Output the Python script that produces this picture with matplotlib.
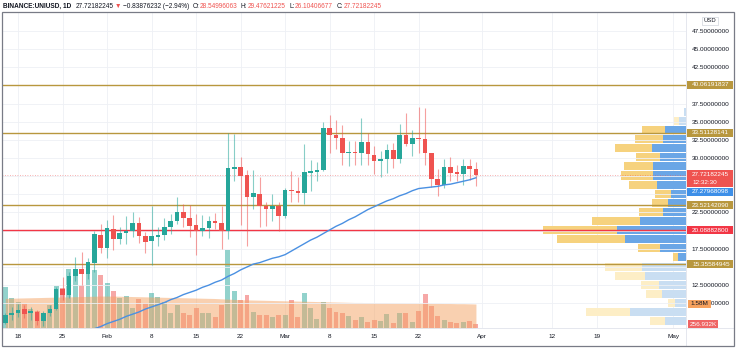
import matplotlib
matplotlib.use('Agg')
import matplotlib.pyplot as plt
import matplotlib.dates as mdates
from matplotlib.patches import Rectangle
import numpy as np
import pandas as pd

W, H = 736, 348

# ---- data ----
dates = pd.date_range('2021-01-16', '2021-03-31', freq='D')
opens = [7.3, 8.36, 8.6, 9.18, 8.6, 8.86, 7.55, 8.6, 9.27, 12.0,
         11.2, 13.8, 14.7, 14.0, 15.5, 19.45, 17.6, 20.2, 18.86, 19.63,
         20.0, 21.05, 19.2, 18.53, 19.18, 19.45, 20.55, 21.37, 22.5, 21.7,
         20.73, 20.0, 20.3, 21.37, 21.05, 20.0, 28.55, 28.7, 27.6, 24.66,
         25.1, 23.33, 22.97, 23.4, 22.05, 25.6, 25.5, 25.2, 28.0, 28.1,
         28.36, 34.07, 33.1, 32.7, 30.64, 30.86, 30.7, 32.2, 30.4, 29.6,
         29.8, 31.05, 29.82, 33.15, 31.87, 32.8, 32.55, 30.73, 27.08, 26.3,
         28.77, 28.08, 27.77, 28.86, 28.54996063]
highs = [8.6, 9.5, 9.9, 9.8, 9.5, 9.1, 9.0, 9.7, 12.3, 13.6,
         14.3, 16.4, 17.0, 16.3, 20.0, 20.9, 21.4, 22.1, 20.5, 22.05,
         22.5, 21.9, 19.8, 23.4, 20.5, 21.8, 22.3, 24.6, 23.7, 23.5,
         22.3, 22.2, 22.0, 22.4, 23.4, 33.4, 33.3, 30.2, 28.3, 28.3,
         27.4, 24.0, 25.0, 24.0, 25.9, 28.2, 27.4, 31.96, 29.7, 29.4,
         35.0, 35.9, 35.3, 34.5, 32.4, 32.4, 35.5, 33.5, 31.6, 31.0,
         31.9, 32.0, 34.7, 36.2, 33.8, 37.0, 36.9, 30.73, 28.45, 29.8,
         30.2, 29.1, 29.8, 29.8, 29.47621225]
lows = [7.1, 7.7, 8.1, 8.0, 7.7, 7.0, 6.9, 8.2, 9.1, 10.4,
        10.7, 13.1, 12.5, 13.4, 14.3, 16.9, 16.2, 17.3, 18.1, 18.2,
        19.1, 18.3, 16.9, 15.3, 17.9, 18.7, 19.5, 20.9, 20.5, 19.1,
        16.6, 19.2, 19.0, 20.2, 17.5, 18.9, 26.8, 20.8, 17.85, 22.97,
        20.45, 20.7, 21.3, 20.0, 21.8, 23.9, 23.9, 23.66, 25.5, 26.8,
        28.2, 30.7, 31.3, 29.0, 28.95, 29.0, 29.1, 29.1, 27.8, 27.4,
        28.0, 28.6, 29.36, 31.6, 30.27, 30.7, 29.1, 26.0, 24.8, 25.9,
        26.9, 26.8, 26.3, 27.0, 26.10406677]
closes = [8.36, 8.66, 9.13, 8.5, 8.95, 7.6, 8.65, 9.27, 12.0, 11.2,
          13.8, 14.7, 14.0, 15.66, 19.55, 17.6, 20.37, 18.86, 19.63, 20.0,
          21.05, 19.2, 18.5, 19.22, 19.45, 20.55, 21.37, 22.6, 21.7, 20.7,
          20.0, 20.3, 21.37, 21.0, 20.0, 28.6, 28.75, 27.5, 24.65, 25.16,
          23.4, 22.97, 23.4, 22.05, 25.6, 25.4, 25.2, 28.1, 28.2, 28.4,
          34.07, 33.1, 32.7, 30.64, 30.8, 30.73, 32.2, 30.6, 29.6, 29.8,
          31.05, 29.82, 33.15, 31.87, 32.8, 32.55, 30.73, 27.08, 26.3, 28.77,
          28.0, 27.77, 28.86, 28.55, 27.72182245]
# volume in millions
volumes = [2.7, 1.95, 1.7, 1.6, 1.25, 1.15, 0.95, 1.5, 2.75, 2.6,
           3.9, 3.9, 2.8, 4.3, 3.8, 3.5, 2.96, 2.44, 2.0, 2.1,
           1.3, 1.9, 1.64, 2.32, 2.06, 1.73, 0.98, 1.51, 0.98, 0.88,
           1.3, 0.98, 0.98, 0.75, 1.5, 5.15, 2.43, 1.82, 2.17, 1.07,
           0.86, 0.86, 0.75, 0.86, 0.86, 1.84, 0.75, 2.28, 1.34, 0.57,
           1.71, 1.29, 1.07, 0.96, 0.79, 0.53, 0.75, 0.42, 0.53, 0.48,
           0.9, 0.35, 1.0, 0.96, 0.42, 1.14, 2.24, 1.45, 0.79, 0.53,
           0.42, 0.31, 0.42, 0.46, 0.256932]
vol_ma = [1.95, 1.96, 1.97, 1.98, 1.99, 2.0, 2.01, 2.02, 2.03, 2.04,
          2.05, 2.06, 2.07, 2.08, 2.09, 2.1, 2.1, 2.1, 2.09, 2.08,
          2.07, 2.06, 2.05, 2.04, 2.03, 2.02, 2.01, 2.0, 1.99, 1.98,
          1.97, 1.96, 1.95, 1.94, 1.92, 1.9, 1.88, 1.86, 1.85, 1.84,
          1.83, 1.82, 1.81, 1.8, 1.79, 1.78, 1.77, 1.76, 1.75, 1.74,
          1.73, 1.72, 1.71, 1.7, 1.69, 1.68, 1.68, 1.67, 1.67, 1.66,
          1.66, 1.65, 1.65, 1.64, 1.64, 1.63, 1.63, 1.62, 1.62, 1.61,
          1.61, 1.60, 1.60, 1.59, 1.58]
# moving average, visible from the 14th candle on
ma = [np.nan] * 14 + [
    6.5, 6.8, 7.2, 7.5, 7.8, 8.2, 8.5, 8.8, 9.2, 9.5,
    9.8, 10.1, 10.5, 10.8, 11.2, 11.5, 11.8, 12.2, 12.5, 12.9,
    13.2, 13.7, 14.1, 14.6, 15.0, 15.4, 15.6, 15.9, 16.2, 16.4,
    16.7, 17.2, 17.7, 18.2, 18.7, 19.1, 19.6, 20.1, 20.6, 21.0,
    21.5, 21.9, 22.4, 22.9, 23.3, 23.7, 24.1, 24.4, 24.8, 25.1,
    25.5, 25.8, 25.9, 26.0, 26.1, 26.3, 26.4, 26.6, 26.8, 27.0,
    27.27968098]

# visible range volume profile, 24 rows, bottom to top (relative units)
prof_lo, prof_hi = 6.9, 37.0
prof_up = [21, 56, 11, 24, 27, 41, 44, 8, 26, 61, 69, 46, 23, 18, 15, 29, 33, 33, 26, 34, 23, 21, 7, 2]
prof_down = [15, 44, 7, 16, 18, 30, 37, 5, 22, 68, 74, 48, 24, 16, 16, 28, 32, 29, 24, 37, 28, 23, 5, 0]
value_area = (7, 21)

gold_levels = [40.06191837, 33.51128141, 23.52142090, 15.35584945]
red_level = 20.08882800

tick_dates = ['2021-01-18', '2021-01-25', '2021-02-01', '2021-02-08', '2021-02-15', '2021-02-22',
              '2021-03-01', '2021-03-08', '2021-03-15', '2021-03-22', '2021-04-01', '2021-04-12',
              '2021-04-19', '2021-05-01']
tick_labels = ['18', '25', 'Feb', '8', '15', '22', 'Mar', '8', '15', '22', 'Apr', '12', '19', 'May']
grid_prices = np.arange(10, 47.51, 2.5)
# price labels that are not hidden behind a tag
price_labels = [10, 12.5, 17.5, 22.5, 30, 32.5, 35, 37.5, 42.5, 45, 47.5]

# ---- style ----
UP, DN = '#26a69a', '#ef5350'
GOLD, RED = '#b8973e', '#f23645'
TXT = '#131722'
FAM = ['Liberation Sans', 'DejaVu Sans']
FS = 4.6

ylo, yhi = 6.6, 50.1
x = mdates.date2num(dates.to_pydatetime())
d0 = x[0]

fig = plt.figure(figsize=(W / 100, H / 100), dpi=100)
rect = [2 / W, 1 - 328 / H, 684 / W, 316 / H]

vax = fig.add_axes(rect)
prof = fig.add_axes(rect)
ax = fig.add_axes(rect)
vax.set_zorder(0)
prof.set_zorder(0.5)
ax.set_zorder(1)
prof.patch.set_visible(False)
ax.patch.set_visible(False)

xlim = (d0 - 0.52, d0 + 107.03)

# grid (behind the volume)
for td in tick_dates:
    vax.axvline(mdates.datestr2num(td), color='#eef0f5', lw=0.6, zorder=0)

# volume
o = np.array(opens); c = np.array(closes)
up = c >= o
vcol = np.where(up, UP, DN)
vax.bar(x, volumes, width=0.78, color=vcol, alpha=0.5, linewidth=0, zorder=1)
vax.fill_between(x, 0, vol_ma, color='#f5a362', alpha=0.5, linewidth=0, zorder=2)
vax.set_xlim(xlim)
vax.set_ylim(0, 316 / 15.2)
vax.axis('off')

# volume profile
step = (prof_hi - prof_lo) / len(prof_up)
rows = prof_lo + step * (np.arange(len(prof_up)) + 0.5)
for i, (u, d) in enumerate(zip(prof_up, prof_down)):
    inside = value_area[0] <= i <= value_area[1]
    bc = '#6aa6e6' if inside else '#c9def2'
    yc = '#f6d27e' if inside else '#fdeec6'
    prof.barh(rows[i], u, height=step * 0.88, left=0, color=bc, linewidth=0)
    prof.barh(rows[i], d, height=step * 0.88, left=u, color=yc, linewidth=0)
tot = max(a + b for a, b in zip(prof_up, prof_down))
prof.set_xlim(tot / 0.209, 0)
prof.set_ylim(ylo, yhi)
prof.axis('off')

for p in grid_prices:
    ax.axhline(p, color='#eef0f5', lw=0.6, zorder=0)

# levels
for lv in gold_levels:
    ax.axhline(lv, color=GOLD, lw=1.0, zorder=2)
ax.axhline(red_level, color=RED, lw=1.0, zorder=2)
ax.axhline(closes[-1], color=DN, lw=0.6, ls=(0, (1, 2)), alpha=0.6, zorder=2)

# candles
ccol = np.where(up, UP, DN)
ax.vlines(x, lows, highs, colors=ccol, lw=0.8, alpha=0.55, zorder=3)
body_lo = np.minimum(o, c)
body_h = np.maximum(np.abs(c - o), 0.12)
ax.bar(x, body_h, bottom=body_lo, width=0.72, color=ccol, linewidth=0, zorder=4)

# moving average
ax.plot(x, ma, color='#4a90e2', lw=1.0, zorder=5)

ax.set_xlim(xlim)
ax.set_ylim(ylo, yhi)
for s in ax.spines.values():
    s.set_visible(False)
ax.set_xticks([mdates.datestr2num(t) for t in tick_dates])
ax.set_xticklabels(tick_labels, fontsize=FS, color=TXT, family=FAM)
ax.yaxis.tick_right()
ax.set_yticks(price_labels)
ax.set_yticklabels(['%.8f' % p for p in price_labels], fontsize=FS, color=TXT, family=FAM)
ax.tick_params(axis='x', length=0, pad=4)
ax.tick_params(axis='y', length=0, pad=4.3)


def py(p):
    return 12 + (yhi - p) / (yhi - ylo) * 316


def tag(yc, text, fc, tc='white', x0=687, x1=733, h=8, top=None, center=False):
    top = yc - h / 2 if top is None else top
    fig.patches.append(Rectangle((x0 / W, 1 - (top + h) / H), (x1 - x0) / W, h / H,
                                 transform=fig.transFigure, facecolor=fc, edgecolor='none', zorder=5))
    tx = (x0 + x1) / 2 if center else 692
    fig.text(tx / W, 1 - yc / H, text, color=tc, fontsize=FS, family=FAM,
             ha='center' if center else 'left', va='center', zorder=6)


for lv in gold_levels:
    tag(py(lv), '%.8f' % lv, GOLD)
tag(py(red_level), '%.8f' % red_level, RED)

# last price with countdown
yl = py(closes[-1])
tag(yl, '%.8f' % closes[-1], DN, h=16.5, top=yl - 4.5)
fig.text(692 / W, 1 - (yl + 7.5) / H, '12:32:30', color='white', fontsize=FS, family=FAM,
         ha='left', va='center', zorder=6)
# MA tag pushed below the last price tag
yma = max(py(ma[-1]), yl + 12 + 1 + 4)
tag(yma, '%.8f' % ma[-1], '#3d8fe8')

# volume tags
vy = lambda v: 328 - v * 15.2
tag(vy(vol_ma[-1]), '%.2fM' % vol_ma[-1], '#f7a25e', tc=TXT, x0=688, x1=711, center=True)
tag(vy(volumes[-1]), '%.3fK' % (volumes[-1] * 1000), '#ef6464', x0=688, x1=718, center=True)

# USD unit label
fig.patches.append(Rectangle((702 / W, 1 - 25 / H), 16 / W, 8 / H, transform=fig.transFigure,
                             facecolor='white', edgecolor='#d1d4dc', lw=0.5, zorder=5))
fig.text(710 / W, 1 - 21 / H, 'USD', color=TXT, fontsize=4.2, family=FAM, ha='center', va='center', zorder=6)

# frame and separators
fig.patches.append(Rectangle((2 / W, 1 - 346 / H), 732 / W, 334 / H, transform=fig.transFigure,
                             facecolor='none', edgecolor='#787b86', lw=0.9, zorder=7))
fig.lines.append(plt.Line2D([686 / W, 686 / W], [1 - 346 / H, 1 - 12 / H], transform=fig.transFigure,
                            color='#e0e3eb', lw=0.6))
fig.lines.append(plt.Line2D([2 / W, 734 / W], [1 - 328 / H, 1 - 328 / H], transform=fig.transFigure,
                            color='#e0e3eb', lw=0.6))

# title legend line
pieces = [('BINANCE:UNIUSD, 1D', TXT, 'bold', 4), ('27.72182245', TXT, 'normal', 1.5),
          ('▼', DN, 'normal', 1.5), ('−0.83876232 (−2.94%)', TXT, 'normal', 3.5),
          ('O:', TXT, 'normal', 0.5), ('28.54996063', DN, 'normal', 3.5),
          ('H:', TXT, 'normal', 0.5), ('29.47621225', DN, 'normal', 3.5),
          ('L:', TXT, 'normal', 0.5), ('26.10406677', DN, 'normal', 3.5),
          ('C:', TXT, 'normal', 0.5), ('27.72182245', DN, 'normal', 0)]
r = fig.canvas.get_renderer()


def lay(fs, draw):
    xx = 3
    for s, col, wt, gap in pieces:
        t = fig.text(xx / W, 1 - 6 / H, s, color=col, fontweight=wt, fontsize=fs,
                     family=FAM, ha='left', va='center')
        wpx = t.get_window_extent(renderer=r).width
        if not draw:
            t.remove()
        xx += wpx + gap
    return xx


gaps = sum(p[3] for p in pieces)
wid = lay(5.0, False) - 3 - gaps
lay(5.0 * (389 - gaps) / wid, True)

fig.savefig('out.png', dpi=100, facecolor='white')
